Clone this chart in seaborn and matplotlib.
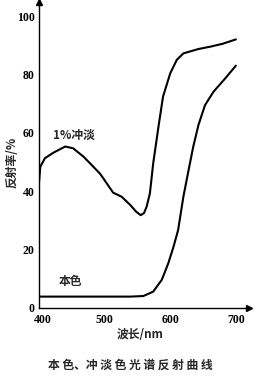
import matplotlib
matplotlib.use("Agg")
import matplotlib.pyplot as plt
from matplotlib.transforms import ScaledTranslation
import seaborn as sns
import pandas as pd

# 1% diluted (冲淡) curve
wl_diluted = [400, 402, 409, 422, 440, 452, 468, 478, 493, 498, 513, 526, 539, 548,
              555, 560, 564, 569, 574, 582, 589, 600, 610, 620, 643, 661, 680, 700]
rf_diluted = [43, 48.4, 51.3, 53.2, 55.3, 54.7, 51.8, 49.5, 46, 44.4, 39.5, 38.1, 35.3, 33,
              31.8, 32.5, 34.7, 39.3, 49.5, 62, 72.4, 80.4, 85, 87.2, 88.7, 89.5, 90.5, 92]
# 本色 (full shade) curve
wl_full = [400, 450, 500, 539, 559, 574, 587, 597, 605, 612, 620, 628, 635, 643,
           653, 666, 684, 700]
rf_full = [3.9, 3.9, 3.9, 3.9, 4.1, 5.6, 9.6, 15.3, 21, 26.7, 38.1, 47.3, 55.2, 62.7,
           69.5, 74.1, 78.7, 83]

x_ticks = [400, 500, 600, 700]
y_ticks = [0, 20, 40, 60, 80, 100]

sns.set_style("white")
cjk = ['Noto Sans CJK SC', 'DejaVu Sans']
plt.rcParams['font.family'] = cjk

fig = plt.figure(figsize=(2.59, 3.78), dpi=100)
ax = fig.add_axes([39/259, 70/378, 210/259, 306/378])

df1 = pd.DataFrame({"wl": wl_diluted, "rf": rf_diluted})
df2 = pd.DataFrame({"wl": wl_full, "rf": rf_full})
sns.lineplot(data=df1, x="wl", y="rf", ax=ax, color="black", lw=1.5)
sns.lineplot(data=df2, x="wl", y="rf", ax=ax, color="black", lw=1.5)

ax.set_xlim(400, 720)
ax.set_ylim(0, 104.8)
ax.set_xticks(x_ticks)
ax.set_yticks(y_ticks)
numfont = dict(family='Liberation Serif', weight='bold', size=8.5)
ax.set_xticklabels([str(v) for v in x_ticks], fontdict=numfont)
ax.set_yticklabels([str(v) for v in y_ticks], fontdict=numfont)
ax.tick_params(axis='both', direction='in', length=3, width=0.8, colors='black', pad=3)
ax.tick_params(axis='x', pad=4)
first = ax.get_xticklabels()[0]
first.set_transform(first.get_transform() + ScaledTranslation(4/100, 0, fig.dpi_scale_trans))
ax.set_xlabel("")
ax.set_ylabel("")
for s in ['top', 'right']:
    ax.spines[s].set_visible(False)
for s in ['left', 'bottom']:
    ax.spines[s].set_color('black')
    ax.spines[s].set_linewidth(1.0)
ax.plot(1, 0, ">", color="black", ms=4, transform=ax.transAxes, clip_on=False)
ax.plot(0, 1, "^", color="black", ms=4, transform=ax.transAxes, clip_on=False)

ax.text(422, 59, "1%冲淡", fontsize=8.5, fontweight='bold', family=cjk, ha='left', va='center')
ax.text(430, 9, "本色", fontsize=8.5, fontweight='bold', family=cjk, ha='left', va='center')

fig.text(140/259, 1 - 334/378, "波长/nm", fontsize=8.5, fontweight='bold', family=cjk, ha='center', va='center')
fig.text(12/259, 1 - 162/378, "反射率/%", fontsize=8.5, fontweight='bold', family=cjk,
         rotation=90, ha='center', va='center')
fig.text(130/259, 1 - 365/378, "本 色、冲 淡 色 光 谱 反 射 曲 线", fontsize=8.5, fontweight='bold',
         family=cjk, ha='center', va='center')

fig.savefig("out.png", dpi=100)
